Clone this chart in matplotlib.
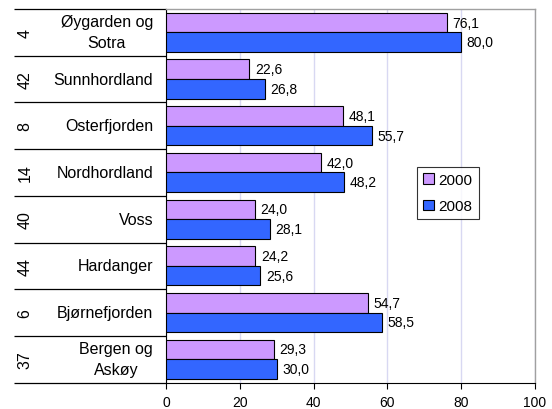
import matplotlib
matplotlib.use("Agg")
import matplotlib.pyplot as plt
import matplotlib.transforms as mtransforms
import numpy as np

plt.rcParams["font.family"] = ["Liberation Sans", "DejaVu Sans"]

regions = ["Øygarden og\nSotra", "Sunnhordland", "Osterfjorden", "Nordhordland",
           "Voss", "Hardanger", "Bjørnefjorden", "Bergen og\nAskøy"]
codes = ["4", "42", "8", "14", "40", "44", "6", "37"]
values_2000 = [76.1, 22.6, 48.1, 42.0, 24.0, 24.2, 54.7, 29.3]
values_2008 = [80.0, 26.8, 55.7, 48.2, 28.1, 25.6, 58.5, 30.0]
series_labels = ["2000", "2008"]
x_ticks = [0, 20, 40, 60, 80, 100]

color_2000 = "#CC99FF"
color_2008 = "#3366FF"

fig = plt.figure(figsize=(5.52, 4.10), dpi=100)
ax = fig.add_axes([166 / 552, 1 - 383.6 / 410, 369 / 552, 373.6 / 410])

n = len(regions)
slot = np.arange(n)  # 0 at top
bar_h = 0.42
y_a = slot - bar_h / 2
y_b = slot + bar_h / 2

bars_a = ax.barh(y_a, values_2000, height=bar_h, color=color_2000,
                 edgecolor="black", linewidth=0.8, label=series_labels[0], zorder=3)
bars_b = ax.barh(y_b, values_2008, height=bar_h, color=color_2008,
                 edgecolor="black", linewidth=0.8, label=series_labels[1], zorder=3)

for bars, vals in ((bars_a, values_2000), (bars_b, values_2008)):
    for b, v in zip(bars, vals):
        ax.annotate(f"{v:.1f}".replace(".", ","),
                    (v, b.get_y() + b.get_height() / 2),
                    xytext=(4, 0), textcoords="offset points",
                    ha="left", va="center", fontsize=10)

ax.set_xlim(0, 100)
ax.set_ylim(n - 0.5, -0.5)
ax.set_xticks(x_ticks)
ax.set_xticklabels([str(t) for t in x_ticks], fontsize=10)
ax.tick_params(axis="x", length=4, width=0.8, direction="out", pad=5)
ax.set_yticks([])
ax.xaxis.grid(True, color="#D8D8F2", linewidth=1.0, zorder=0)
ax.set_axisbelow(True)

for side in ("top", "right"):
    ax.spines[side].set_color("#A0A0A0")
    ax.spines[side].set_linewidth(1.0)
ax.spines["left"].set_color("black")
ax.spines["bottom"].set_color("black")

# category labels and separators left of the axis
trans = mtransforms.blended_transform_factory(ax.transAxes, ax.transData)
x_left = (14 - 166) / 369
for i in range(n + 1):
    ax.plot([x_left, 0], [i - 0.5, i - 0.5], color="black", linewidth=0.9,
            transform=trans, clip_on=False, solid_capstyle="butt")
for i, (name, code) in enumerate(zip(regions, codes)):
    ax.text(-0.035, i, name, transform=trans, ha="right", va="center",
            multialignment="center", fontsize=11.5, linespacing=1.5)
    ax.text((25 - 166) / 369, i, code, transform=trans, ha="center", va="center",
            rotation=90, fontsize=11.5)

leg = ax.legend(loc="upper left", bbox_to_anchor=(417 / 552, 1 - 168 / 410),
                bbox_transform=fig.transFigure, fontsize=11, frameon=True,
                fancybox=False, edgecolor="black", handlelength=0.7,
                handleheight=0.7, handletextpad=0.3, borderpad=0.4,
                labelspacing=0.8, borderaxespad=0)
leg.get_frame().set_linewidth(0.8)
for h in leg.legend_handles:
    h.set_linewidth(0.8)

fig.savefig("out.png", dpi=100)
